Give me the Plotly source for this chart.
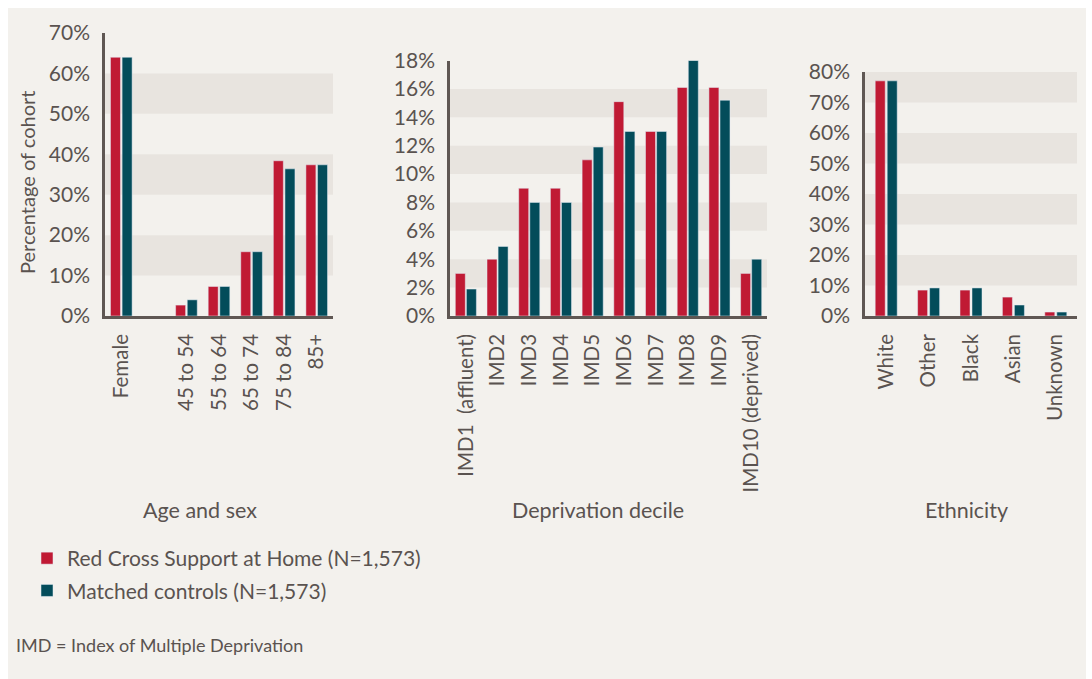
import plotly.graph_objects as go

# ---------------- data ----------------
age_labels = ["Female", " ", "45 to 54", "55 to 64", "65 to 74", "75 to 84", "85+"]
age_redcross = [64.0, None, 2.7, 7.3, 15.9, 38.4, 37.4]
age_controls = [64.0, None, 4.0, 7.3, 15.9, 36.4, 37.4]

imd_labels = ["IMD1  (affluent)", "IMD2", "IMD3", "IMD4", "IMD5", "IMD6", "IMD7",
              "IMD8", "IMD9", "IMD10 (deprived)"]
imd_redcross = [3.0, 4.0, 9.0, 9.0, 11.0, 15.1, 13.0, 16.1, 16.1, 3.0]
imd_controls = [1.9, 4.9, 8.0, 8.0, 11.9, 13.0, 13.0, 18.0, 15.2, 4.0]

eth_labels = ["White", "Other", "Black", "Asian", "Unknown"]
eth_redcross = [77.1, 8.5, 8.5, 6.2, 1.3]
eth_controls = [77.1, 9.2, 9.2, 3.6, 1.3]

series_names = ["Red Cross Support at Home (N=1,573)", "Matched controls (N=1,573)"]
panel_titles = ["Age and sex", "Deprivation decile", "Ethnicity"]
y_max = [70, 18, 80]
y_step = [10, 2, 10]

# ---------------- style ----------------
W, H = 1092, 679
RED = "#c01a34"
TEAL = "#034c5a"
BG = "#f3f1ed"
BAND = "#e8e4df"
TXT = "#5a5350"
AXIS = "#5f5753"
FONT = "Lato"

def px_x(x):
    return x / W

def px_y(y):
    return 1 - y / H

# plot areas in pixels: (left, right, top, bottom)
areas = [(105, 333, 33, 316), (450, 767, 60.5, 316), (865, 1077, 72, 316)]
bar_w = [0.307, 0.315, 0.236]
bar_gap = [0.05, 0.035, 0.047]

panels = [
    (age_labels, age_redcross, age_controls),
    (imd_labels, imd_redcross, imd_controls),
    (eth_labels, eth_redcross, eth_controls),
]

fig = go.Figure()
shapes = [dict(type="rect", xref="paper", yref="paper",
               x0=px_x(8), x1=px_x(1086), y0=px_y(679), y1=px_y(8),
               fillcolor=BG, line=dict(width=0), layer="below")]

for i, (labels, red, teal) in enumerate(panels):
    xa = "x" if i == 0 else f"x{i+1}"
    ya = "y" if i == 0 else f"y{i+1}"
    w, g = bar_w[i], bar_gap[i]
    fig.add_trace(go.Bar(x=labels, y=red, name=series_names[0], marker_color=RED,
                         width=w, offset=-w - g / 2, xaxis=xa, yaxis=ya,
                         showlegend=(i == 0), legendgroup="a"))
    fig.add_trace(go.Bar(x=labels, y=teal, name=series_names[1], marker_color=TEAL,
                         width=w, offset=g / 2, xaxis=xa, yaxis=ya,
                         showlegend=(i == 0), legendgroup="b"))
    l, r, t, b = areas[i]
    xkey = "xaxis" if i == 0 else f"xaxis{i+1}"
    ykey = "yaxis" if i == 0 else f"yaxis{i+1}"
    fig.layout[xkey] = dict(
        domain=[px_x(l), px_x(r)], anchor=ya, type="category",
        categoryorder="array", categoryarray=labels,
        range=[-0.5, len(labels) - 0.5], automargin=False,
        showline=True, linecolor=AXIS, linewidth=2.5, showgrid=False,
        ticks="", tickangle=-90, ticklabelstandoff=7,
        tickfont=dict(family=FONT, size=20.5, color=TXT), fixedrange=True,
    )
    fig.layout[ykey] = dict(
        domain=[px_y(b), px_y(t)], anchor=xa, automargin=False,
        range=[0, y_max[i]], dtick=y_step[i], tick0=0, ticksuffix="%",
        showline=True, linecolor=AXIS, linewidth=2.5, showgrid=False,
        zeroline=False, ticks="", ticklabelstandoff=8,
        tickfont=dict(family=FONT, size=21, color=TXT), fixedrange=True,
    )
    # alternating background bands
    k = 1
    while k * y_step[i] < y_max[i]:
        shapes.append(dict(type="rect", xref=f"{xa} domain", yref=ya,
                           x0=0, x1=1, y0=k * y_step[i],
                           y1=min((k + 1) * y_step[i], y_max[i]),
                           fillcolor=BAND, line=dict(width=0), layer="below"))
        k += 2

def note(text, x, y, size, **kw):
    d = dict(text=text, x=px_x(x), y=px_y(y), xref="paper", yref="paper",
             xanchor="center", yanchor="middle", showarrow=False,
             font=dict(family=FONT, size=size, color=TXT))
    d.update(kw)
    return d

annotations = [
    note(panel_titles[0], 200, 510, 21.5),
    note(panel_titles[1], 598, 510, 21.5),
    note(panel_titles[2], 966, 510, 21.5),
    note("Percentage of cohort", 27, 183, 20, textangle=-90),
    note("IMD = Index of Multiple Deprivation", 14, 645, 18, xanchor="left"),
]

fig.update_layout(
    width=W, height=H,
    margin=dict(l=0, r=0, t=0, b=0, pad=0, autoexpand=False),
    paper_bgcolor="white", plot_bgcolor=BG,
    barmode="overlay", shapes=shapes, annotations=annotations,
    showlegend=True,
    legend=dict(x=px_x(27), y=px_y(538), xanchor="left", yanchor="top",
                bgcolor="rgba(0,0,0,0)", font=dict(family=FONT, size=21, color=TXT),
                tracegroupgap=2, itemclick=False, itemdoubleclick=False),
    font=dict(family=FONT, color=TXT),
)

fig.write_html("out.html", config={"displayModeBar": False},
               post_script="document.body.style.margin='0px';document.body.style.overflow='hidden';")
